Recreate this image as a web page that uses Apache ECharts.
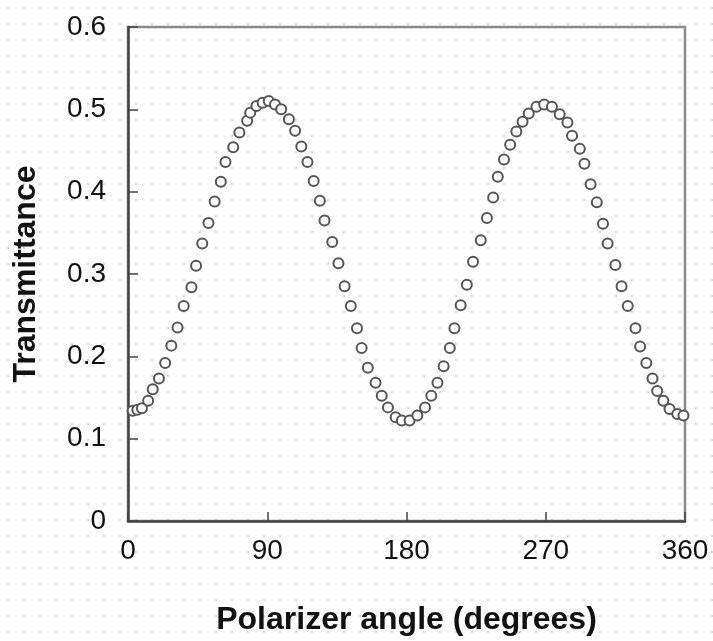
<!DOCTYPE html>
<html>
<head>
<meta charset="utf-8">
<script src="https://cdn.jsdelivr.net/npm/echarts@6/dist/echarts.min.js"></script>
<style>
  html, body {
    margin: 0;
    padding: 0;
    background-color: #fff;
    background-image: radial-gradient(circle, #d6d6d6 1px, transparent 1.3px);
    background-size: 16px 16px;
  }
  #chart { width: 713px; height: 641px; }
</style>
</head>
<body>
<div id="chart"></div>
<script>
// polarizer angle (degrees)
const angles = [
  3, 6, 9, 13, 16, 20, 24, 28, 32, 36, 41, 44, 48, 52, 56, 60, 63, 68, 72, 77,
  79, 83, 87, 91, 95, 99, 104, 108, 112, 116, 120, 124, 127, 132, 136, 140, 144, 148, 151, 155,
  160, 164, 168, 173, 177, 182, 187, 192, 196, 200, 204, 208, 211, 215, 219, 223, 228, 232, 236, 239,
  243, 247, 251, 255, 259, 264, 269, 274, 279, 284, 287, 292, 295, 299, 303, 307, 310, 315, 319, 323,
  328, 331, 335, 339, 342, 346, 350, 355, 359
]
// measured transmittance
const transmittance = [
  0.134, 0.135, 0.137, 0.146, 0.160, 0.173, 0.192, 0.213, 0.235, 0.261, 0.284, 0.310, 0.337, 0.362, 0.388, 0.412, 0.436, 0.454, 0.472, 0.486,
  0.496, 0.504, 0.508, 0.510, 0.506, 0.500, 0.488, 0.474, 0.455, 0.436, 0.413, 0.389, 0.365, 0.339, 0.313, 0.285, 0.261, 0.234, 0.210, 0.186,
  0.168, 0.152, 0.138, 0.126, 0.122, 0.122, 0.128, 0.138, 0.152, 0.168, 0.188, 0.210, 0.234, 0.262, 0.287, 0.315, 0.341, 0.368, 0.393, 0.418,
  0.439, 0.457, 0.473, 0.485, 0.495, 0.503, 0.506, 0.503, 0.494, 0.484, 0.468, 0.452, 0.434, 0.409, 0.387, 0.361, 0.337, 0.311, 0.285, 0.261,
  0.234, 0.212, 0.192, 0.173, 0.158, 0.146, 0.136, 0.130, 0.128
]
const xTicks = [0, 90, 180, 270, 360]
const yTicks = [0, 0.1, 0.2, 0.3, 0.4, 0.5, 0.6]

const chart = echarts.init(document.getElementById('chart'), null, { renderer: 'canvas' })

const axisText = { color: '#111', fontSize: 28, fontFamily: 'Liberation Sans, Arial, sans-serif' }
const nameText = { color: '#111', fontSize: 32, fontWeight: 'bold', fontFamily: 'Liberation Sans, Arial, sans-serif' }

chart.setOption({
  animation: false,
  grid: {
    left: 128, right: 28, top: 27, bottom: 117,
    show: true,
    borderColor: '#8a8a8a',
    borderWidth: 2.5,
    backgroundColor: 'transparent',
  },
  xAxis: {
    type: 'value',
    min: xTicks[0],
    max: xTicks[xTicks.length - 1],
    interval: 90,
    name: 'Polarizer angle (degrees)',
    nameLocation: 'middle',
    nameGap: 83,
    nameTextStyle: nameText,
    axisLine: { show: true, onZero: false, lineStyle: { color: '#444', width: 2.5 } },
    axisTick: { show: true, inside: true, length: 9, lineStyle: { color: '#444', width: 1.5 } },
    axisLabel: { ...axisText, margin: 16 },
    splitLine: { show: false },
  },
  yAxis: {
    type: 'value',
    min: yTicks[0],
    max: yTicks[yTicks.length - 1],
    interval: 0.1,
    name: 'Transmittance',
    nameLocation: 'middle',
    nameGap: 86,
    nameTextStyle: nameText,
    axisLine: { show: true, onZero: false, lineStyle: { color: '#444', width: 2.5 } },
    axisTick: { show: true, inside: true, length: 10, lineStyle: { color: '#444', width: 1.5 } },
    axisLabel: { ...axisText, margin: 22, formatter: (v) => String(Math.round(v * 10) / 10) },
    splitLine: { show: false },
  },
  series: [
    {
      type: 'scatter',
      data: angles.map((a, i) => [a, transmittance[i]]),
      symbol: 'emptyCircle',
      symbolSize: 10,
      itemStyle: { color: '#555', borderColor: '#555', borderWidth: 1.7, opacity: 1 },
      z: 3,
    },
  ],
})
</script>
</body>
</html>
